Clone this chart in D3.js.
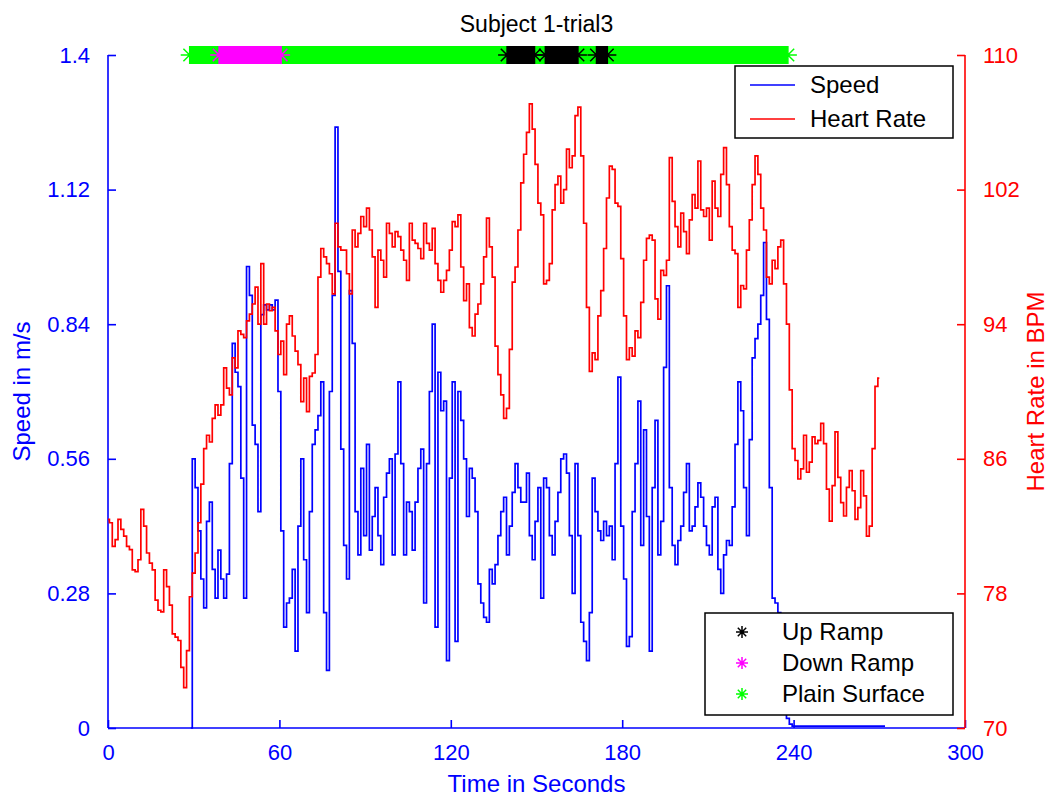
<!doctype html>
<html>
  <head>
    <meta charset="utf-8">
    <title>Subject 1-trial3</title>
    <script src="https://cdnjs.cloudflare.com/ajax/libs/d3/7.8.5/d3.min.js"></script>
    <style>
      body { margin: 0; background: #fff; }
      svg text { font-family: "Liberation Sans", Arial, sans-serif; }
    </style>
  </head>
  <body>
    <div id="chart"></div>
    <script>
      // heart rate, one reading per second starting at t = 0
      const hrStart = 0;
      const heartRate = [
        82.4, 82.2, 80.8, 81.2, 82.4, 81.8, 81.4, 80.8, 80.6, 79.4,
        79.3, 80.0, 83.0, 82.0, 80.4, 79.8, 79.4, 77.6, 77.0, 76.9,
        79.4, 78.4, 77.3, 75.6, 75.4, 75.2, 73.6, 72.4, 74.6, 77.8,
        79.2, 80.4, 82.2, 84.5, 86.6, 87.4, 87.0, 88.4, 89.2, 88.6,
        89.2, 91.4, 90.2, 89.8, 92.0, 91.4, 93.6, 93.4, 93.2, 94.2,
        94.6, 95.2, 96.2, 94.0, 97.6, 94.0, 95.2, 94.8, 95.0, 93.6,
        92.2, 93.0, 91.0, 94.0, 94.5, 93.3, 92.4, 91.6, 89.4, 90.8,
        88.8, 90.9, 91.1, 92.2, 96.8, 98.5, 98.0, 97.6, 97.0, 95.8,
        100.0, 98.6, 98.4, 98.4, 97.0, 95.8, 99.6, 98.6, 99.4, 100.4,
        99.8, 100.9, 99.6, 98.0, 95.0, 98.4, 97.8, 96.8, 100.0, 99.4,
        98.6, 99.5, 99.2, 98.4, 97.8, 96.6, 100.0, 99.0, 98.8, 98.5,
        97.9, 100.0, 98.8, 98.4, 99.7, 97.6, 96.6, 95.9, 96.6, 97.2,
        98.4, 100.1, 99.8, 100.5, 97.4, 95.4, 96.4, 93.8, 93.3, 94.6,
        95.2, 96.4, 98.0, 100.3, 98.6, 96.8, 92.7, 91.0, 89.8, 88.4,
        89.0, 92.5, 96.5, 97.4, 99.6, 102.4, 104.1, 105.4, 107.1, 105.6,
        103.5, 101.2, 100.5, 96.4, 96.6, 97.6, 100.8, 102.3, 102.8, 101.2,
        102.0, 104.4, 103.3, 104.0, 106.4, 106.9, 104.0, 100.0, 95.0, 91.2,
        92.3, 91.9, 94.5, 96.0, 98.5, 101.5, 103.4, 103.2, 101.2, 101.0,
        97.9, 94.5, 91.9, 92.6, 92.1, 93.6, 93.2, 95.3, 97.8, 99.1,
        99.3, 99.0, 95.5, 94.3, 97.2, 96.9, 97.8, 103.9, 101.3, 99.8,
        98.6, 100.6, 99.5, 98.2, 100.2, 101.7, 100.9, 103.7, 100.8, 100.4,
        100.9, 99.0, 102.5, 100.9, 100.4, 102.9, 104.5, 102.3, 99.8, 98.4,
        98.2, 95.0, 96.3, 96.1, 98.4, 100.2, 102.3, 104.0, 102.9, 100.9,
        99.6, 96.8, 96.4, 97.8, 97.3, 98.6, 99.0, 96.4, 94.0, 90.1,
        86.6, 85.9, 84.8, 85.4, 87.4, 85.2, 85.8, 87.3, 86.9, 87.1,
        88.1, 86.9, 84.2, 82.3, 84.4, 87.6, 84.9, 83.4, 82.6, 84.3,
        85.3, 84.1, 82.4, 83.1, 85.3, 83.8, 81.4, 82.0, 86.6, 90.3,
        90.8
      ];

      // walking speed in m/s, one reading per second starting at t = 29
      const speedStart = 29;
      const speed = [
        0.00, 0.56, 0.50, 0.41, 0.31, 0.25, 0.43, 0.47, 0.33, 0.27,
        0.37, 0.31, 0.27, 0.32, 0.55, 0.80, 0.74, 0.71, 0.52, 0.27,
        0.96, 0.90, 0.63, 0.59, 0.45, 0.86, 0.88, 0.87, 0.88, 0.87,
        0.89, 0.70, 0.41, 0.21, 0.26, 0.27, 0.33, 0.16, 0.42, 0.56,
        0.35, 0.24, 0.45, 0.59, 0.62, 0.65, 0.72, 0.24, 0.12, 0.70,
        0.90, 1.25, 0.95, 0.58, 0.38, 0.31, 0.91, 0.80, 0.45, 0.36,
        0.54, 0.40, 0.59, 0.37, 0.44, 0.50, 0.40, 0.34, 0.48, 0.53,
        0.56, 0.36, 0.57, 0.72, 0.55, 0.36, 0.47, 0.45, 0.37, 0.47,
        0.54, 0.58, 0.26, 0.55, 0.70, 0.84, 0.21, 0.74, 0.66, 0.68,
        0.14, 0.52, 0.72, 0.18, 0.70, 0.64, 0.56, 0.44, 0.54, 0.52,
        0.45, 0.30, 0.26, 0.23, 0.22, 0.33, 0.30, 0.34, 0.40, 0.45,
        0.48, 0.36, 0.42, 0.49, 0.55, 0.50, 0.47, 0.47, 0.53, 0.40,
        0.35, 0.43, 0.50, 0.27, 0.52, 0.50, 0.40, 0.36, 0.43, 0.49,
        0.56, 0.57, 0.53, 0.40, 0.28, 0.55, 0.40, 0.22, 0.18, 0.14,
        0.24, 0.52, 0.45, 0.41, 0.39, 0.43, 0.40, 0.42, 0.35, 0.55,
        0.73, 0.42, 0.31, 0.17, 0.19, 0.45, 0.55, 0.68, 0.38, 0.62,
        0.44, 0.16, 0.50, 0.64, 0.36, 0.43, 0.75, 0.92, 0.50, 0.38,
        0.34, 0.39, 0.42, 0.49, 0.55, 0.41, 0.42, 0.46, 0.51, 0.48,
        0.42, 0.38, 0.36, 0.46, 0.48, 0.33, 0.28, 0.36, 0.39, 0.38,
        0.46, 0.59, 0.72, 0.66, 0.50, 0.40, 0.60, 0.77, 0.81, 0.84,
        0.90, 1.01, 0.85, 0.50, 0.27, 0.26, 0.24, 0.12, 0.05, 0.02,
        0.008, 0.004, 0.004, 0.004, 0.004, 0.004, 0.004, 0.004, 0.004, 0.004,
        0.004, 0.004, 0.004, 0.004, 0.004, 0.004, 0.004, 0.004, 0.004, 0.004,
        0.004, 0.004, 0.004, 0.004, 0.004, 0.004, 0.004, 0.004, 0.004, 0.004,
        0.004, 0.004, 0.004, 0.004
      ];

      // surface type along the walk (seconds)
      const plainStart = [28.6, 60.6, 149.3, 164.5, 174.8];
      const plainEnd   = [38.9, 139.7, 153.1, 171.0, 238.0];
      const downStart  = [38.9];
      const downEnd    = [60.6];
      const upStart    = [139.7, 153.1, 171.0];
      const upEnd      = [149.3, 164.5, 174.8];

      // ticks
      const timeTicks  = [0, 60, 120, 180, 240, 300];
      const speedTicks = [0, 0.28, 0.56, 0.84, 1.12, 1.4];
      const hrTicks    = [70, 78, 86, 94, 102, 110];

      const BLUE = '#0000ff', RED = '#ff0000';
      const width = 1049, height = 800;
      const margin = {top: 55, right: 84, bottom: 72, left: 108};

      const svg = d3.select('#chart')
        .append('svg')
        .attr('width', width)
        .attr('height', height);

      const x = d3.scaleLinear().domain([0, 300]).range([margin.left, width - margin.right]);
      const ySpeed = d3.scaleLinear().domain([0, 1.4]).range([height - margin.bottom, margin.top]);
      const yHr = d3.scaleLinear().domain([70, 110]).range([height - margin.bottom, margin.top]);

      const speedData = speed.map((v, i) => ({t: speedStart + i, v: v}));
      const hrData = heartRate.map((v, i) => ({t: hrStart + i, v: v}));

      // axes, ticks pointing inward like matlab
      const tickLen = 8;
      const xAxis = d3.axisBottom(x).tickValues(timeTicks).tickSize(-tickLen).tickPadding(tickLen + 8);
      const yLeft = d3.axisLeft(ySpeed).tickValues(speedTicks).tickSize(-tickLen)
        .tickPadding(tickLen + 10).tickFormat(d => String(d));
      const yRight = d3.axisRight(yHr).tickValues(hrTicks).tickSize(-tickLen).tickPadding(tickLen + 10);

      const styleAxis = (g, color) => {
        g.select('.domain').attr('stroke', color).attr('stroke-width', 1.6);
        g.selectAll('.tick line').attr('stroke', color).attr('stroke-width', 1.6);
        g.selectAll('.tick text').attr('fill', color).style('font-size', '22px');
      };

      svg.append('g')
        .attr('transform', `translate(0,${height - margin.bottom})`)
        .call(xAxis)
        .call(g => styleAxis(g, BLUE))
        .call(g => g.select('.domain').attr('d', `M${x(0)},0H${x(300)}`));

      svg.append('g')
        .attr('transform', `translate(${margin.left},0)`)
        .call(yLeft)
        .call(g => styleAxis(g, BLUE))
        .call(g => g.select('.domain').attr('d', `M0,${ySpeed(1.4)}V${ySpeed(0)}`));

      svg.append('g')
        .attr('transform', `translate(${width - margin.right},0)`)
        .call(yRight)
        .call(g => styleAxis(g, RED))
        .call(g => g.select('.domain').attr('d', `M0,${yHr(110)}V${yHr(70)}`));

      // lines, stepped around each sample
      const speedLine = d3.line().x(d => x(d.t)).y(d => ySpeed(d.v)).curve(d3.curveStep);
      const hrLine = d3.line().x(d => x(d.t)).y(d => yHr(d.v)).curve(d3.curveStep);

      svg.append('path')
        .datum(speedData)
        .attr('d', speedLine)
        .attr('fill', 'none')
        .attr('stroke', BLUE)
        .attr('stroke-width', 1.7);

      svg.append('path')
        .datum(hrData)
        .attr('d', hrLine)
        .attr('fill', 'none')
        .attr('stroke', RED)
        .attr('stroke-width', 1.7);

      // star marker like matlab '*'
      const star = (cx, cy, r) => {
        const d = r * 0.7;
        return `M${cx - r},${cy}H${cx + r}M${cx},${cy - r}V${cy + r}` +
               `M${cx - d},${cy - d}L${cx + d},${cy + d}M${cx - d},${cy + d}L${cx + d},${cy - d}`;
      };

      // surface band along the top at speed = 1.4
      const bandY = ySpeed(1.4);
      const drawSurface = (starts, ends, color) => {
        starts.forEach((s, i) => {
          const e = ends[i];
          svg.append('rect')
            .attr('x', x(s)).attr('y', bandY - 9)
            .attr('width', x(e) - x(s)).attr('height', 18)
            .attr('fill', color);
          svg.append('path')
            .attr('d', star(x(s), bandY, 9) + star(x(e), bandY, 9))
            .attr('fill', 'none')
            .attr('stroke', color)
            .attr('stroke-width', 1.5);
        });
      };
      drawSurface(plainStart, plainEnd, '#00ff00');
      drawSurface(downStart, downEnd, '#ff00ff');
      drawSurface(upStart, upEnd, '#000000');

      // labels
      svg.append('text')
        .attr('x', (x(0) + x(300)) / 2).attr('y', 32)
        .attr('text-anchor', 'middle')
        .style('font-size', '23px')
        .text('Subject 1-trial3');

      svg.append('text')
        .attr('x', (x(0) + x(300)) / 2).attr('y', 792)
        .attr('text-anchor', 'middle')
        .attr('fill', BLUE)
        .style('font-size', '24px')
        .text('Time in Seconds');

      svg.append('text')
        .attr('transform', `translate(30,${(ySpeed(0) + ySpeed(1.4)) / 2}) rotate(-90)`)
        .attr('text-anchor', 'middle')
        .attr('fill', BLUE)
        .style('font-size', '24px')
        .text('Speed in m/s');

      svg.append('text')
        .attr('transform', `translate(1044,${(yHr(70) + yHr(110)) / 2}) rotate(-90)`)
        .attr('text-anchor', 'middle')
        .attr('fill', RED)
        .style('font-size', '24px')
        .text('Heart Rate in BPM');

      // legend for the lines
      const leg1 = svg.append('g').attr('transform', 'translate(735,66)');
      leg1.append('rect').attr('width', 218).attr('height', 72)
        .attr('fill', '#fff').attr('stroke', '#000').attr('stroke-width', 1.5);
      [['Speed', BLUE], ['Heart Rate', RED]].forEach((d, i) => {
        const yy = 19 + i * 34;
        leg1.append('line').attr('x1', 15).attr('x2', 60).attr('y1', yy).attr('y2', yy)
          .attr('stroke', d[1]).attr('stroke-width', 1.7);
        leg1.append('text').attr('x', 75).attr('y', yy + 8)
          .style('font-size', '24px').text(d[0]);
      });

      // legend for the surfaces
      const leg2 = svg.append('g').attr('transform', 'translate(705,613)');
      leg2.append('rect').attr('width', 248).attr('height', 102)
        .attr('fill', '#fff').attr('stroke', '#000').attr('stroke-width', 1.5);
      [['Up Ramp', '#000000'], ['Down Ramp', '#ff00ff'], ['Plain Surface', '#00ff00']].forEach((d, i) => {
        const yy = 19 + i * 31;
        leg2.append('path').attr('d', star(37, yy, 6))
          .attr('fill', 'none').attr('stroke', d[1]).attr('stroke-width', 1.5);
        leg2.append('text').attr('x', 77).attr('y', yy + 8)
          .style('font-size', '24px').text(d[0]);
      });
    </script>
  </body>
</html>
